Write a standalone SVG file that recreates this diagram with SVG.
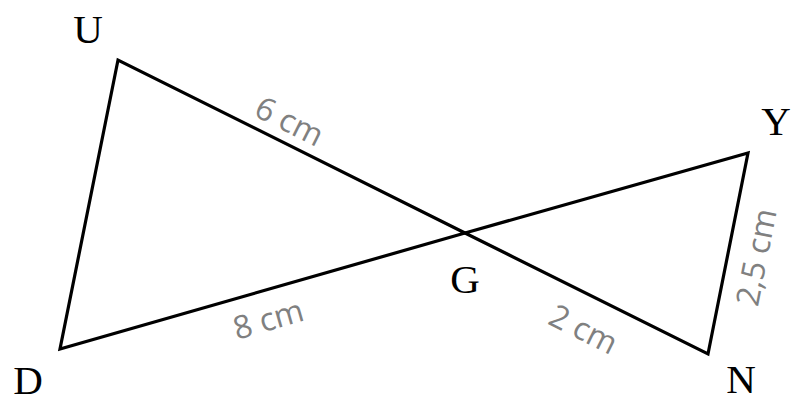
<svg xmlns="http://www.w3.org/2000/svg" width="792" height="403" viewBox="0 0 792 403">
<style>
.edge{stroke:#000;stroke-width:3.2;fill:none;stroke-linejoin:miter;stroke-linecap:round}
.pt{font-family:"Liberation Serif",serif;font-size:41px;fill:#000;text-anchor:middle}
.len{font-family:"Open Sans","Noto Sans",sans-serif;font-size:32px;fill:#808080;text-anchor:middle;dominant-baseline:central}
</style>
<rect width="792" height="403" fill="#fff"/>
<g id="connectors">
<polyline class="edge" points="465,233 118,60 60,349 465,233"/>
<polyline class="edge" points="465,233 748,153 708,354 465,233"/>
</g>
<g id="U"><text class="pt" x="88" y="43">U</text></g>
<g id="D"><text class="pt" x="28" y="394">D</text></g>
<g id="G"><text class="pt" x="465" y="293">G</text></g>
<g id="Y"><text class="pt" x="776" y="135">Y</text></g>
<g id="N"><text class="pt" x="741" y="393">N</text></g>
<g id="labels">
<text class="len" transform="translate(290,120) rotate(26.5)">6 cm</text>
<text class="len" transform="translate(268,318) rotate(-16)">8 cm</text>
<text class="len" transform="translate(584,328) rotate(26.5)">2 cm</text>
<text class="len" transform="translate(755,257) rotate(-78.7)">2,5 cm</text>
</g>
</svg>
